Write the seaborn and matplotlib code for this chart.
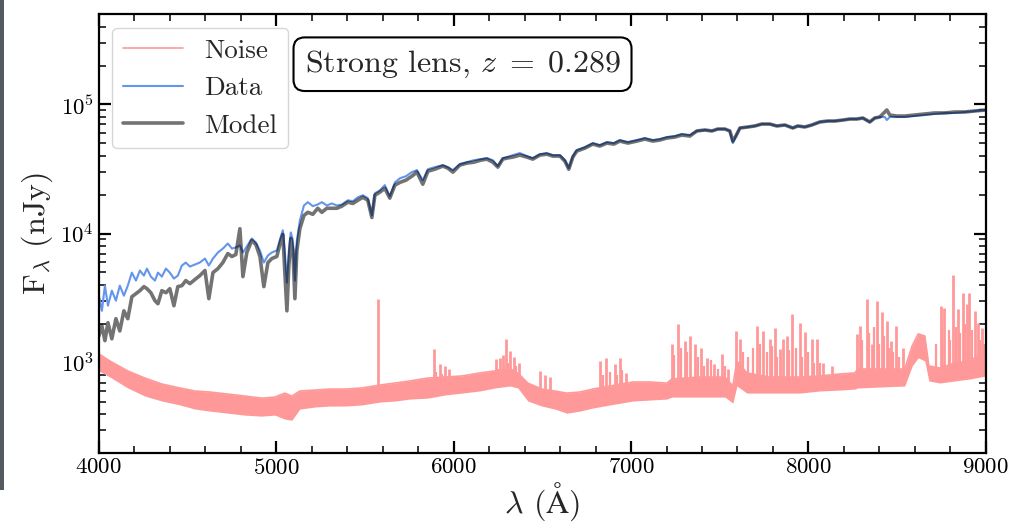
import matplotlib
matplotlib.use('Agg')
import matplotlib.pyplot as plt
from matplotlib.ticker import MultipleLocator
import seaborn as sns

# wavelength grid (Angstrom) shared by data and model
wave_spec = [4000, 4017, 4034, 4051, 4073, 4096, 4118, 4141, 4163, 4186,
             4209, 4231, 4254, 4271, 4293, 4316, 4333, 4355, 4378, 4400,
             4423, 4445, 4468, 4490, 4513, 4541, 4569, 4598, 4620, 4643,
             4671, 4699, 4727, 4750, 4772, 4795, 4812, 4834, 4862, 4885,
             4908, 4930, 4953, 4975, 5003, 5026, 5037, 5048, 5060, 5071,
             5082, 5094, 5105, 5116, 5133, 5156, 5178, 5206, 5234, 5257,
             5285, 5313, 5342, 5370, 5404, 5432, 5460, 5488, 5516, 5539,
             5556, 5584, 5612, 5640, 5669, 5697, 5731, 5764, 5793, 5826,
             5855, 5894, 5939, 5967, 5996, 6035, 6074, 6114, 6153, 6187,
             6221, 6249, 6277, 6300, 6334, 6373, 6413, 6446, 6486, 6525,
             6559, 6599, 6627, 6649, 6672, 6694, 6740, 6785, 6824, 6864,
             6903, 6937, 6982, 7033, 7078, 7123, 7162, 7202, 7247, 7286,
             7332, 7371, 7417, 7456, 7489, 7529, 7557, 7574, 7591, 7614,
             7659, 7698, 7737, 7782, 7822, 7867, 7912, 7940, 7980, 8019,
             8064, 8109, 8149, 8194, 8233, 8273, 8307, 8346, 8374, 8402,
             8431, 8442, 8459, 8498, 8543, 8600, 8656, 8712, 8769, 8825,
             8882, 8938, 9000]

# observed spectrum (nJy)
data_flux = [3300, 2520, 3950, 2760, 3610, 3020, 3950, 3300, 3950, 4980,
             4320, 5170, 4720, 5350, 4640, 4320, 4980, 4640, 5350, 4980,
             4480, 4720, 5650, 5960, 5550, 5750, 5960, 6400, 5650, 6400,
             7130, 7650, 8370, 7650, 7800, 8080, 7130, 7940, 9160, 8520,
             7390, 5960, 6760, 7130, 7390, 9490, 10600, 7390, 4170, 7390,
             10200, 8830, 4320, 8830, 12600, 16500, 17500, 16300, 16800, 17500,
             16500, 17100, 16500, 16800, 18100, 17800, 19100, 19800, 18800, 13800,
             20500, 21600, 23700, 19400, 24900, 26800, 27800, 29900, 31000, 25900,
             31500, 32700, 33900, 32700, 31000, 34500, 35700, 37000, 37700, 38400,
             37000, 33300, 38400, 39100, 40500, 42000, 39800, 38400, 41200, 42000,
             40500, 40500, 37000, 32100, 39800, 44300, 46700, 50200, 48400, 51100,
             50200, 53000, 51100, 53000, 54900, 53000, 53900, 55900, 56900, 59000,
             57900, 62300, 63400, 62300, 64500, 64500, 62300, 50200, 56900, 65700,
             66900, 68100, 70500, 70500, 68100, 69300, 65700, 68100, 66900, 69300,
             73100, 74400, 74400, 75700, 77100, 77100, 78500, 73100, 78500, 79900,
             79900, 75700, 79900, 79900, 79900, 81300, 82800, 84400, 85900, 85900,
             87400, 89000, 90600]

# best-fit model (nJy)
model_flux = [1610, 1930, 1480, 2040, 1530, 2190, 1760, 2520, 2190, 3240,
              3420, 3610, 3880, 3740, 3480, 3020, 2860, 3610, 3480, 3740,
              2760, 3880, 3950, 4320, 4090, 4400, 4720, 5170, 3130, 4980,
              5350, 5960, 7000, 6640, 6880, 10900, 4640, 7130, 8830, 8220,
              6640, 3880, 5960, 6400, 6640, 8830, 9840, 5170, 2520, 5650,
              9160, 7390, 3130, 7390, 10900, 13800, 14600, 14100, 15700, 14600,
              15700, 15700, 15700, 16300, 17500, 17100, 18100, 19100, 18100, 13300,
              19800, 20900, 22400, 18800, 23700, 24900, 25900, 27800, 29900, 24100,
              30400, 31500, 33300, 32100, 29900, 33900, 35100, 35700, 37000, 37700,
              35700, 32700, 37700, 38400, 39100, 40500, 39100, 37700, 40500, 41200,
              39800, 39800, 36400, 31500, 39100, 43500, 45900, 49300, 47600, 50200,
              49300, 52000, 50200, 52000, 53900, 52000, 53000, 54900, 55900, 57900,
              56900, 62300, 63400, 62300, 64500, 64500, 62300, 52000, 56900, 65700,
              66900, 68100, 70500, 70500, 68100, 69300, 65700, 68100, 66900, 69300,
              73100, 74400, 74400, 75700, 77100, 77100, 78500, 73100, 78500, 79900,
              87400, 90600, 82800, 81300, 81300, 82800, 84400, 85900, 85900, 87400,
              87400, 89000, 90600]

# noise spectrum: envelope of the dense noise band (nJy)
noise_wave = [4000, 4062, 4163, 4259, 4355, 4457, 4541, 4626, 4727, 4823,
              4918, 4992, 5048, 5088, 5133, 5218, 5302, 5387, 5482, 5584,
              5669, 5753, 5855, 5950, 6046, 6147, 6232, 6317, 6362, 6418,
              6497, 6570, 6638, 6711, 6785, 6881, 7010, 7106, 7202, 7230,
              7388, 7529, 7574, 7597, 7653, 7782, 7952, 8064, 8177, 8262,
              8278, 8402, 8543, 8585, 8619, 8656, 8679, 8741, 8825, 8910,
              9000]
noise_hi = [1170, 1030, 862, 760, 683, 636, 603, 592, 571, 551,
            531, 541, 581, 551, 603, 613, 624, 624, 636, 671,
            695, 721, 760, 774, 788, 832, 862, 877, 832, 695,
            624, 603, 581, 592, 624, 659, 708, 708, 695, 747,
            774, 774, 659, 1030, 832, 774, 774, 788, 817, 832,
            893, 893, 893, 1350, 1670, 1610, 942, 909, 994, 1030,
            1230]
noise_lo = [862, 774, 636, 551, 504, 470, 437, 421, 406, 392,
            385, 392, 365, 358, 437, 453, 461, 461, 470, 495,
            504, 522, 531, 561, 581, 603, 636, 659, 636, 504,
            461, 437, 406, 421, 445, 470, 504, 513, 522, 541,
            541, 541, 486, 659, 581, 581, 581, 603, 613, 624,
            636, 647, 659, 942, 1090, 1030, 721, 695, 721, 747,
            788]

# strong sky-line spikes in the noise spectrum
spike_wave = [5573, 5889, 5923, 5950, 5973, 6238, 6260, 6277, 6294, 6317,
              6339, 6367, 6485, 6514, 6542, 6824, 6858, 6909, 6937, 6970,
              7230, 7264, 7303, 7332, 7360, 7394, 7427, 7467, 7512, 7546,
              7591, 7614, 7709, 7743, 7782, 7811, 7839, 7856, 7878, 7906,
              7952, 7980, 8019, 8047, 8081, 8132, 8273, 8290, 8329, 8357,
              8385, 8413, 8442, 8464, 8492, 8532, 8746, 8763, 8814, 8842,
              8870, 8893, 8904, 8938, 8955, 8977]
spike_peak = [3130, 1280, 977, 942, 893, 1070, 1090, 1150, 1530, 1230,
              1110, 994, 862, 800, 774, 1030, 1090, 977, 1090, 832,
              1400, 2000, 1480, 1610, 1400, 1300, 1090, 977, 1170, 893,
              1760, 1530, 1930, 1760, 1530, 1860, 1280, 1530, 1610, 2390,
              2040, 1720, 1530, 1530, 994, 942, 1670, 1930, 3130, 1400,
              3020, 2450, 2110, 1480, 1930, 1300, 2760, 2640, 4800, 2600,
              3480, 2860, 3480, 2520, 2040, 1860]
spike_base = [550, 600, 600, 600, 600, 700, 700, 700, 700, 700,
              700, 700, 520, 500, 500, 520, 520, 540, 540, 540,
              600, 600, 600, 600, 600, 600, 600, 600, 600, 600,
              700, 650, 650, 650, 650, 650, 650, 650, 650, 650,
              650, 650, 650, 650, 680, 680, 720, 720, 720, 720,
              720, 720, 720, 720, 720, 720, 800, 800, 800, 800,
              800, 800, 800, 800, 800, 800]

# weaker sky-line residuals between the strong ones
weak_wave = [5900, 5935, 6250, 6285, 6305, 6330, 6350, 6840, 6880, 6920,
             6950, 7245, 7282, 7318, 7375, 7410, 7450, 7490, 7530, 7630,
             7660, 7690, 7725, 7765, 7795, 7825, 7890, 7930, 7965, 8000,
             8030, 8065, 8300, 8342, 8370, 8400, 8428, 8455, 8478, 8510,
             8720, 8755, 8790, 8800, 8830, 8855, 8880, 8920, 8965, 8990]
weak_peak = [850, 820, 900, 950, 1000, 900, 950, 800, 850, 800,
             880, 1150, 1300, 1200, 1100, 950, 1050, 900, 950, 1200,
             1100, 1300, 1400, 1200, 1350, 1100, 1250, 1300, 1100, 1200,
             1000, 1000, 1500, 1700, 1900, 1400, 1600, 1300, 1200, 1100,
             1400, 1900, 1800, 1500, 1900, 1700, 2000, 1800, 1500, 1400]
weak_base = [600, 600, 700, 700, 700, 700, 700, 540, 540, 540,
             540, 600, 600, 600, 600, 600, 600, 600, 600, 650,
             650, 650, 650, 650, 650, 650, 650, 650, 650, 650,
             650, 680, 720, 720, 720, 720, 720, 720, 720, 720,
             800, 800, 800, 800, 800, 800, 800, 800, 800, 800]

noise_color = '#ff9999'
data_color = 'cornflowerblue'

sns.set_theme(style='ticks')
plt.rcParams['font.family'] = ['cmr10', 'DejaVu Serif']
plt.rcParams['mathtext.fontset'] = 'cm'
plt.rcParams['axes.formatter.use_mathtext'] = True
plt.rcParams['axes.unicode_minus'] = False

fig = plt.figure(figsize=(10.09, 5.26), dpi=100)
ax = fig.add_axes([0.098, 0.139, 0.879, 0.834])

# noise: dense band plus individual spikes
ax.fill_between(noise_wave, noise_lo, noise_hi, color=noise_color, lw=0)
ax.vlines(spike_wave, spike_base, spike_peak, color=noise_color, lw=2.0)
ax.vlines(weak_wave, weak_base, weak_peak, color=noise_color, lw=1.6)
sns.lineplot(x=noise_wave, y=noise_hi, color=noise_color, lw=1.2, label='Noise', ax=ax)

sns.lineplot(x=wave_spec, y=data_flux, color=data_color, lw=1.5, label='Data', ax=ax)
sns.lineplot(x=wave_spec, y=model_flux, color='black', alpha=0.55, lw=2.6, label='Model', ax=ax)

ax.set_yscale('log')
ax.set_xlim(4000, 9000)
ax.set_ylim(200, 5e5)
ax.xaxis.set_minor_locator(MultipleLocator(200))

ax.tick_params(which='both', direction='in', top=True, right=True, labelsize=16.5, colors='black')
ax.tick_params(which='major', length=8.5, width=1.6)
ax.tick_params(which='minor', length=5, width=1.1)
for s in ax.spines.values():
    s.set_linewidth(1.6)
    s.set_color('black')

ax.set_xlabel(r'$\lambda$ ($\mathrm{\AA}$)', fontsize=23, labelpad=2)
ax.set_ylabel(r'F$_\lambda$ (nJy)', fontsize=23)

ax.legend(loc='upper left', fontsize=19.5, frameon=True, fancybox=True,
          edgecolor='0.8', framealpha=0.8, handlelength=2.2)

ax.text(0.41, 0.886, r'Strong lens, $z\;=\;0.289$', transform=ax.transAxes,
        ha='center', va='center', fontsize=23,
        bbox=dict(boxstyle='round,pad=0.35', fc='white', ec='black', lw=1.5))

# dark strip on the left edge of the screenshot
fig.add_artist(plt.Rectangle((0, 0.068), 0.004, 0.932, transform=fig.transFigure,
                             color='#555a61', lw=0))

plt.savefig('out.png', dpi=100)
plt.close()
